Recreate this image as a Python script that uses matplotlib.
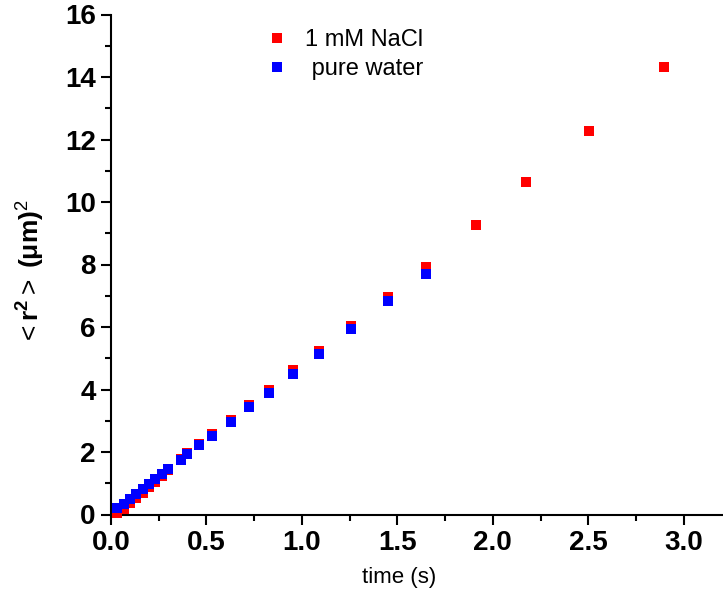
import matplotlib
matplotlib.use("Agg")
import matplotlib.pyplot as plt
from matplotlib.ticker import MultipleLocator

# ---- data ----
water_t = [0.033, 0.067, 0.100, 0.133, 0.167, 0.200, 0.233, 0.267, 0.300,
           0.364, 0.397, 0.460, 0.527, 0.626, 0.724, 0.825, 0.955, 1.088,
           1.255, 1.451, 1.650]
water_r2 = [0.20, 0.34, 0.49, 0.67, 0.82, 0.98, 1.13, 1.30, 1.46,
            1.76, 1.94, 2.22, 2.52, 2.97, 3.43, 3.90, 4.50, 5.15,
            5.95, 6.84, 7.69]

nacl_t = [0.033, 0.067, 0.100, 0.133, 0.167, 0.200, 0.233, 0.267, 0.300,
          0.364, 0.397, 0.460, 0.527, 0.626, 0.724, 0.825, 0.955, 1.088,
          1.255, 1.451, 1.650, 1.910, 2.176, 2.503, 2.897]
nacl_r2 = [0.04, 0.19, 0.36, 0.53, 0.70, 0.87, 1.04, 1.22, 1.42,
           1.78, 1.97, 2.26, 2.57, 3.03, 3.51, 3.98, 4.61, 5.22,
           6.03, 6.95, 7.91, 9.26, 10.63, 12.28, 14.31]

labels = ["1 mM NaCl", " pure water"]
x_ticks = [0.0, 0.5, 1.0, 1.5, 2.0, 2.5, 3.0]
y_ticks = [0, 2, 4, 6, 8, 10, 12, 14, 16]

plt.rcParams['font.family'] = ['Liberation Sans', 'DejaVu Sans']
plt.rcParams['mathtext.fontset'] = 'custom'
plt.rcParams['mathtext.rm'] = 'Liberation Sans'
plt.rcParams['mathtext.bf'] = 'Liberation Sans:bold'
plt.rcParams['mathtext.it'] = 'Liberation Sans:italic'

fig = plt.figure(figsize=(7.23, 5.97), dpi=100)
W, H = 723, 597
left, right, bottom, top = 111, 722, 514.5, 14.5
ax = fig.add_axes([left / W, 1 - bottom / H, (right - left) / W, (bottom - top) / H])

ms = 6.5
ax.plot(nacl_t, nacl_r2, ls='none', marker='s', ms=ms, color='#ff0000',
        mec='#ff0000', mew=0, label=labels[0], clip_on=False, zorder=3)
ax.plot(water_t, water_r2, ls='none', marker='s', ms=ms, color='#0000ff',
        mec='#0000ff', mew=0, label=labels[1], clip_on=False, zorder=4)

ax.set_xlim(0, 3.2)
ax.set_ylim(0, 16)
ax.set_xticks(x_ticks)
ax.set_xticklabels([f"{v:.1f}" for v in x_ticks])
ax.set_yticks(y_ticks)
ax.set_yticklabels([str(v) for v in y_ticks])
ax.xaxis.set_minor_locator(MultipleLocator(0.25))
ax.yaxis.set_minor_locator(MultipleLocator(1))

for s in ['top', 'right']:
    ax.spines[s].set_visible(False)
for s in ['left', 'bottom']:
    ax.spines[s].set_linewidth(1.5)
    ax.spines[s].set_color('black')

ax.tick_params(which='major', direction='out', length=7, width=1.5,
               labelsize=20, pad=4)
ax.tick_params(which='minor', direction='out', length=4.5, width=1.5)
for lab in ax.get_xticklabels() + ax.get_yticklabels():
    lab.set_fontweight('bold')

ax.set_xlabel("time (s)", fontsize=16)
ax.xaxis.set_label_coords((399 - left) / (right - left), (bottom - 567) / (bottom - top))
ax.set_ylabel(r'${<}\mathbf{r}^{\mathbf{2}}{>}$ $\mathbf{(\mu m)}^{2}$', fontsize=19)
ax.yaxis.set_label_coords((47 - left) / (right - left), (bottom - 272) / (bottom - top))

ax.legend(loc='upper left', bbox_to_anchor=(268 / W, 1 - 29 / H),
          bbox_transform=fig.transFigure, frameon=False, fontsize=17,
          handlelength=0.8, handletextpad=0.75, labelspacing=0.3,
          borderpad=0, borderaxespad=0, numpoints=1, markerscale=1.0)

fig.savefig("out.png", dpi=100)
